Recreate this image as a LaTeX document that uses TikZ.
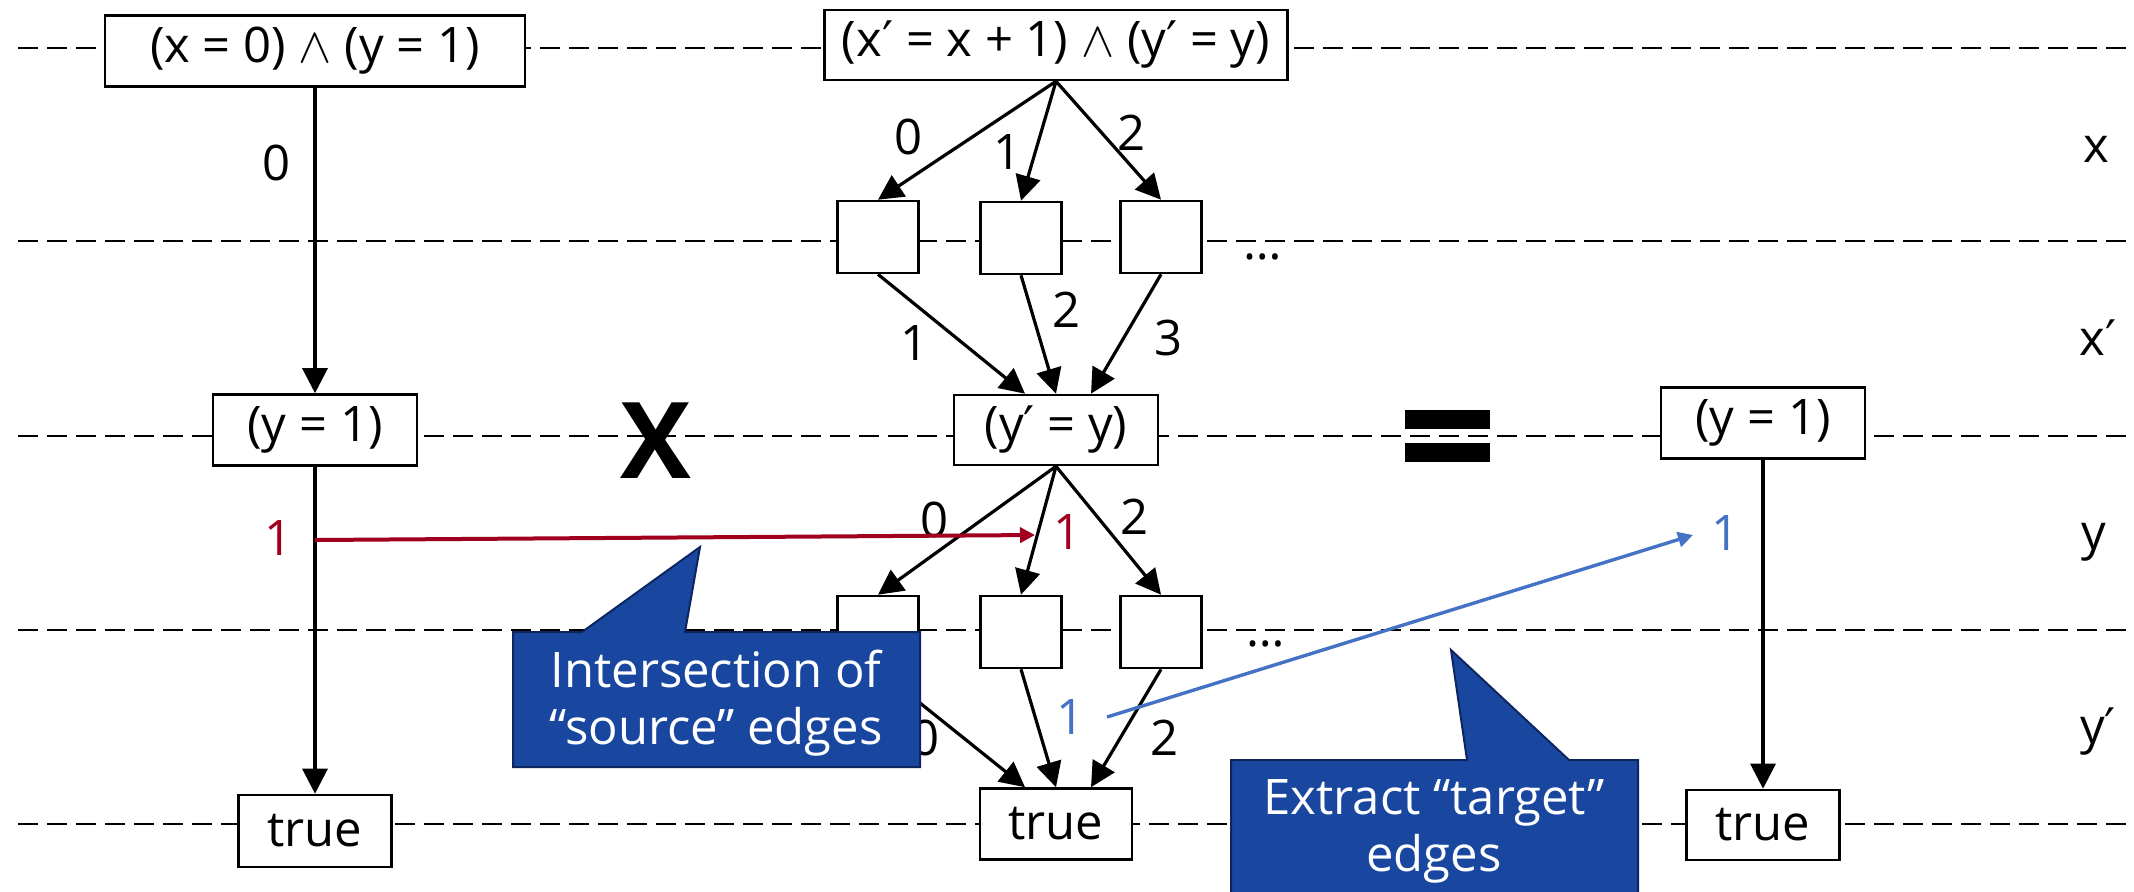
\documentclass[tikz,border=0pt]{standalone}
\usepackage{fontspec}
\setmainfont{Open Sans}
\newfontfamily\djvfont{DejaVu Sans}
\usetikzlibrary{arrows.meta,calc}
\definecolor{calloutblue}{RGB}{25,71,160}
\definecolor{calloutedge}{RGB}{14,38,96}
\definecolor{dred}{RGB}{160,0,30}
\definecolor{lblue}{RGB}{68,114,196}
\newcommand{\primesym}{{\djvfont ′}}
\newcommand{\wedgesym}{$\wedge$}
\begin{document}
\begin{tikzpicture}[x=0.5pt,y=-0.5pt,
  lvl/.style={draw=black,line width=1.4pt,dash pattern=on 10pt off 4.5pt},
  bx/.style={draw=black,line width=1.3pt,fill=white,inner sep=0pt,font=\fontsize{24.5pt}{29pt}\selectfont},
  sbox/.style={bx,minimum width=40.5pt,minimum height=36pt},
  edge/.style={line width=1.6pt,-{Triangle[length=12.5pt,width=12.5pt]}},
  lbl/.style={inner sep=0pt,font=\fontsize{24.5pt}{29pt}\selectfont},
  redarrow/.style={draw=dred,line width=2pt,-{Triangle[length=7.5pt,width=7.5pt]}},
  bluearrow/.style={draw=lblue,line width=1.7pt,-{Triangle[length=7.5pt,width=7.5pt]}},
  callout/.style={fill=calloutblue,draw=calloutedge,line width=1pt},
  ctext/.style={lbl,text=white,anchor=base}
]
\useasboundingbox (0,0) rectangle (2134,891);
\clip (0,0) rectangle (2134,891);
\fill[white] (0,0) rectangle (2134,891);

% level lines
\foreach \yy in {48,241,436,630,824} \draw[lvl] (18,\yy) -- (2134,\yy);

% left column
\node[bx,minimum width=210pt,minimum height=35.5pt] (b1) at (315,51) {(x = 0) \wedgesym{} (y = 1)};
\node[bx,minimum width=102pt,minimum height=35.5pt] (bya) at (315,430) {(y = 1)};
\node[bx,minimum width=76.5pt,minimum height=36pt] (ta) at (315,831) {true};
\draw[edge] (b1.south) -- (bya.north);
\draw[edge] (bya.south) -- (ta.north);
\node[lbl] (l0) at (277,163) {0};

% middle column
\node[bx,minimum width=231.5pt,minimum height=35pt] (b2) at (1056,45) {(x\primesym{} = x + 1) \wedgesym{} (y\primesym{} = y)};
\node[sbox] (sa) at (878,237) {};
\node[sbox] (sb) at (1021,238) {};
\node[sbox] (sc) at (1161,237) {};
\node[bx,minimum width=102pt,minimum height=35pt] (byy) at (1056,430) {(y\primesym{} = y)};
\node[sbox] (sd) at (878,632) {};
\node[sbox] (se) at (1021,632) {};
\node[sbox] (sf) at (1161,632) {};
\node[bx,minimum width=76pt,minimum height=35.5pt] (tm) at (1056,824) {true};

\draw[edge] (b2.south) -- (sa.north);
\draw[edge] (b2.south) -- (sb.north);
\draw[edge] (b2.south) -- (sc.north);
\draw[edge] (sa.south) -- ([xshift=-15.5pt]byy.north);
\draw[edge] (sb.south) -- (byy.north);
\draw[edge] (sc.south) -- ([xshift=17.5pt]byy.north);
\draw[edge] (byy.south) -- (sd.north);
\draw[edge] (byy.south) -- (se.north);
\draw[edge] (byy.south) -- (sf.north);
\draw[edge] (sd.south) -- ([xshift=-15.5pt]tm.north);
\draw[edge] (se.south) -- (tm.north);
\draw[edge] (sf.south) -- ([xshift=17.5pt]tm.north);

\node[lbl] (m0) at (908,137) {0};
\node[lbl] (m1) at (1007,152) {1};
\node[lbl] (m2) at (1131,133) {2};
\node[lbl] (n1) at (914,343) {1};
\node[lbl] (n2) at (1066,310) {2};
\node[lbl] (n3) at (1168,338) {3};
\node[lbl] (p0) at (934,520) {0};
\node[lbl,text=dred] (p1) at (1067,532) {1};
\node[lbl] (p2) at (1134,517) {2};
\node[lbl] (q0) at (925,738) {0};
\node[lbl,text=lblue] (q1) at (1070,717) {1};
\node[lbl] (q2) at (1164,738) {2};
\node[lbl] (dots1) at (1263,257) {…};
\node[lbl] (dots2) at (1266,644) {…};

% right column
\node[bx,minimum width=102pt,minimum height=35.5pt] (byr) at (1763,423) {(y = 1)};
\node[bx,minimum width=76.5pt,minimum height=35pt] (tr) at (1763,825) {true};
\draw[edge] (byr.south) -- (tr.north);
\node[lbl,text=lblue] (r1) at (1725,533) {1};

% operators
\node[inner sep=0pt,font=\fontsize{53pt}{60pt}\selectfont\bfseries] (times) at (656,441) {X};
\fill[black] (1405,410) rectangle (1490,429);
\fill[black] (1405,443) rectangle (1490,462);

% red label left
\node[lbl,text=dred] (l1) at (279,538) {1};

% variable labels
\node[lbl,anchor=base] (vx) at (2096,162) {x};
\node[lbl,anchor=base] (vxp) at (2098,355) {x\primesym};
\node[lbl,anchor=base] (vy) at (2094,549) {y};
\node[lbl,anchor=base] (vyp) at (2098,743) {y\primesym};

% highlighted arrows
\coordinate (rs) at (315,540);
\coordinate (re) at (1035,535);
\draw[redarrow] (rs) -- (re);
\coordinate (bs) at (1107,717);
\coordinate (be) at (1693,535);
\draw[bluearrow] (bs) -- (be);

% callouts
\draw[callout] (513,632) -- (582,632) -- (700,547) -- (685,632) -- (920,632) -- (920,767) -- (513,767) -- cycle;
\node[ctext] (c1a) at (716,687) {Intersection of};
\node[ctext] (c1b) at (716,744) {“source” edges};
\draw[callout] (1231,760) -- (1467,760) -- (1451,650) -- (1569,760) -- (1638,760) -- (1638,900) -- (1231,900) -- cycle;
\node[ctext] (c2a) at (1434,814) {Extract “target”};
\node[ctext] (c2b) at (1434,871) {edges};
\end{tikzpicture}
\end{document}
